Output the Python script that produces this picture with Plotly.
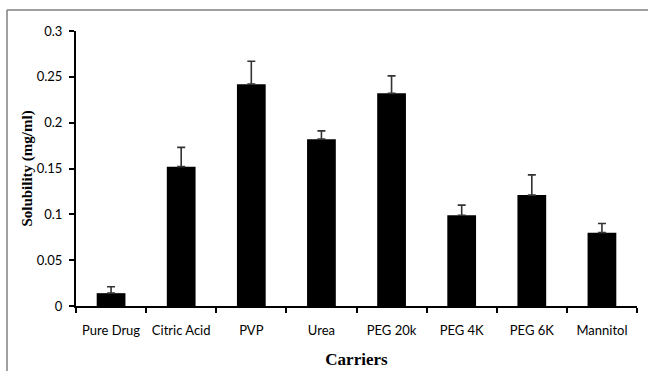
import plotly.graph_objects as go

categories = ["Pure Drug", "Citric Acid", "PVP", "Urea", "PEG 20k", "PEG 4K", "PEG 6K", "Mannitol"]
solubility = [0.014, 0.152, 0.242, 0.182, 0.232, 0.099, 0.121, 0.080]
errors = [0.007, 0.021, 0.025, 0.009, 0.019, 0.011, 0.022, 0.010]
y_ticks = [0, 0.05, 0.1, 0.15, 0.2, 0.25, 0.3]
y_tick_labels = ["0", "0.05", "0.1", "0.15", "0.2", "0.25", "0.3"]

W, H = 648, 371
L, R, T, B = 76, 11, 31, 65
pw, ph = W - L - R, H - T - B

fig = go.Figure(go.Bar(
    x=categories, y=solubility,
    marker=dict(color="black", line=dict(width=0)),
    width=0.41,
    error_y=dict(type="data", array=errors, arrayminus=[0] * len(errors), symmetric=False,
                 color="#333333", thickness=1.6, width=4),
))

def px_x(p):
    return (p - L) / pw

def px_y(p):
    return (H - B - p) / ph

frame = dict(color="#7f7f7f", width=1.5)
fig.add_shape(type="line", xref="paper", yref="paper", x0=px_x(7), x1=px_x(W + 2), y0=px_y(10), y1=px_y(10), line=frame)
fig.add_shape(type="line", xref="paper", yref="paper", x0=px_x(7), x1=px_x(7), y0=px_y(10), y1=px_y(H + 2), line=frame)

fig.update_layout(
    width=W, height=H,
    margin=dict(l=L, r=R, t=T, b=B, autoexpand=False),
    paper_bgcolor="white", plot_bgcolor="white",
    showlegend=False,
    xaxis=dict(
        type="category", tickson="boundaries", automargin=False,
        showline=True, linecolor="black", linewidth=2,
        ticks="outside", ticklen=5, tickwidth=2, tickcolor="black",
        ticklabelstandoff=11,
        showgrid=False,
        tickfont=dict(family="Lato, Open Sans, sans-serif", size=13, color="black"),
        title=dict(text="Carriers", font=dict(family="Liberation Serif", size=17, color="black", weight="bold"), standoff=17),
    ),
    yaxis=dict(
        range=[0, 0.3], tickvals=y_ticks, ticktext=y_tick_labels, automargin=False,
        showline=True, linecolor="black", linewidth=2,
        ticks="outside", ticklen=5, tickwidth=2, tickcolor="black",
        ticklabelstandoff=4,
        showgrid=False, zeroline=False,
        tickfont=dict(family="Lato, Open Sans, sans-serif", size=13, color="black"),
        title=dict(text="Solubility (mg/ml)", font=dict(family="Liberation Serif", size=15, color="black", weight="bold"), standoff=0),
    ),
)

fig.write_html("out.html", config={"displayModeBar": False},
               post_script="document.body.style.margin='0';document.body.style.overflow='hidden';")
